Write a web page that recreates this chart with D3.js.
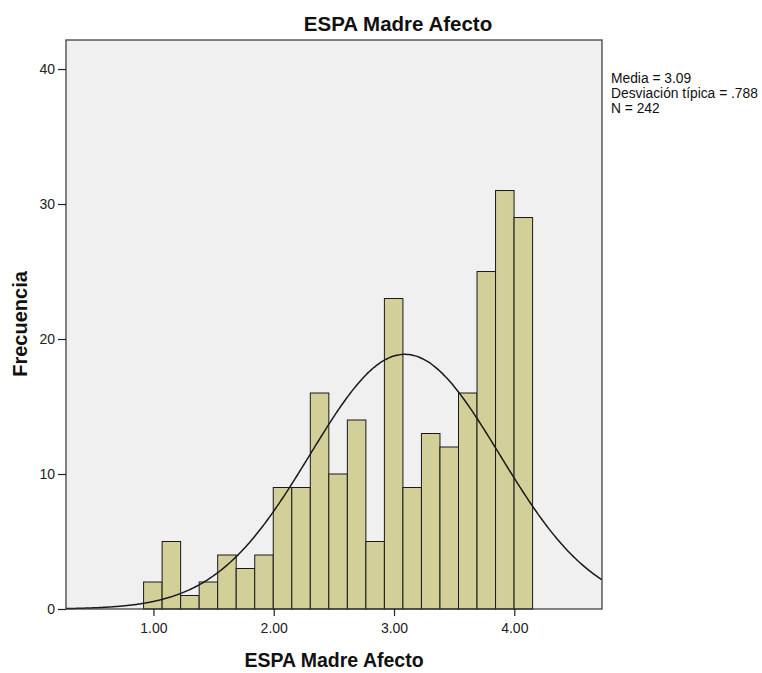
<!DOCTYPE html>
<html>
<head>
<meta charset="utf-8">
<script src="https://cdn.jsdelivr.net/npm/d3@7"></script>
<style>
  html, body { margin: 0; padding: 0; background: #ffffff; }
  svg { display: block; font-family: "Liberation Sans", Arial, sans-serif; }
</style>
</head>
<body>
<svg id="chart" width="762" height="673"></svg>
<script>
// Histogram counts per bin (left to right)
const counts = [2, 5, 1, 2, 4, 3, 4, 9, 9, 16, 10, 14, 5, 23, 9, 13, 12, 16, 25, 31, 29];
const binStart = 0.918;
const binWidth = 0.154;

// Summary statistics for the fitted normal curve
const mean = 3.09;
const sd = 0.788;
const n = 242;

const xTicks = [1, 2, 3, 4];
const yTicks = [0, 10, 20, 30, 40];
const statsLines = ["Media = 3.09", "Desviación típica = .788", "N = 242"];

const svg = d3.select("#chart");
const plot = { left: 66, top: 40, right: 602, bottom: 609 };

const x = d3.scaleLinear().domain([0.273, 4.729]).range([plot.left, plot.right]);
const y = d3.scaleLinear().domain([0, 42.15]).range([plot.bottom, plot.top]);

// plot background
svg.append("rect")
  .attr("x", plot.left).attr("y", plot.top)
  .attr("width", plot.right - plot.left).attr("height", plot.bottom - plot.top)
  .attr("fill", "#f0f0f0");

// bars
const bins = counts.map((c, i) => ({ x0: binStart + i * binWidth, x1: binStart + (i + 1) * binWidth, c }));
svg.append("g").selectAll("rect").data(bins).join("rect")
  .attr("x", d => x(d.x0))
  .attr("y", d => y(d.c))
  .attr("width", d => x(d.x1) - x(d.x0))
  .attr("height", d => y(0) - y(d.c))
  .attr("fill", "#d3cf98")
  .attr("stroke", "#1a1a1a")
  .attr("stroke-width", 1);

// normal curve scaled to counts
const scale = n * binWidth / (sd * Math.sqrt(2 * Math.PI));
const curvePts = d3.range(0, 301).map(i => {
  const v = 0.273 + (4.729 - 0.273) * i / 300;
  return [v, scale * Math.exp(-0.5 * ((v - mean) / sd) ** 2)];
});
svg.append("path")
  .datum(curvePts)
  .attr("fill", "none")
  .attr("stroke", "#1a1a1a")
  .attr("stroke-width", 1.5)
  .attr("d", d3.line().x(d => x(d[0])).y(d => y(d[1])).curve(d3.curveBasis));

// frame
svg.append("rect")
  .attr("x", plot.left).attr("y", plot.top)
  .attr("width", plot.right - plot.left).attr("height", plot.bottom - plot.top)
  .attr("fill", "none")
  .attr("stroke", "#333")
  .attr("stroke-width", 1.2);

// axes
const xAxis = svg.append("g")
  .attr("transform", `translate(0,${plot.bottom})`)
  .call(d3.axisBottom(x).tickValues(xTicks).tickFormat(d3.format(".2f")).tickSize(7).tickPadding(7));
const yAxis = svg.append("g")
  .attr("transform", `translate(${plot.left},0)`)
  .call(d3.axisLeft(y).tickValues(yTicks).tickFormat(d3.format("d")).tickSize(8).tickPadding(3));
[xAxis, yAxis].forEach(g => {
  g.select(".domain").remove();
  g.selectAll("line").attr("stroke", "#222").attr("stroke-width", 1.2);
  g.selectAll("text").attr("font-size", 14).attr("fill", "#222")
    .attr("font-family", "'Liberation Sans', Arial, sans-serif");
});

// title
svg.append("text")
  .attr("x", 398).attr("y", 31)
  .attr("text-anchor", "middle")
  .attr("font-size", 20.5).attr("font-weight", "bold").attr("fill", "#111")
  .text("ESPA Madre Afecto");

// axis titles
svg.append("text")
  .attr("x", 334).attr("y", 667)
  .attr("text-anchor", "middle")
  .attr("font-size", 19.5).attr("font-weight", "bold").attr("fill", "#111")
  .text("ESPA Madre Afecto");
svg.append("text")
  .attr("transform", "translate(27,324) rotate(-90)")
  .attr("text-anchor", "middle")
  .attr("font-size", 20).attr("font-weight", "bold").attr("fill", "#111")
  .text("Frecuencia");

// statistics box text
svg.append("g").selectAll("text").data(statsLines).join("text")
  .attr("x", 611)
  .attr("y", (d, i) => 83 + i * 15)
  .attr("font-size", 13.8).attr("fill", "#111")
  .text(d => d);
</script>
</body>
</html>
